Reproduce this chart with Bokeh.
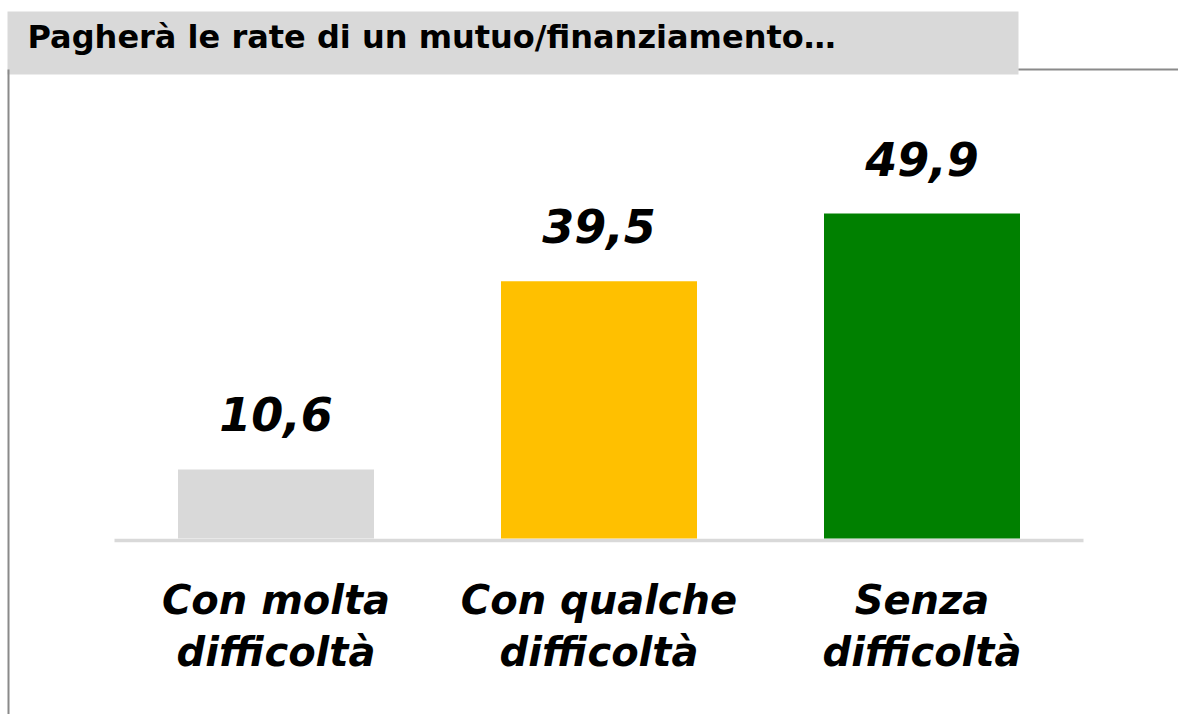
from bokeh.plotting import figure
from bokeh.models import Range1d, ColumnDataSource
from bokeh.core.properties import value
from bokeh.embed import file_html
from bokeh.resources import INLINE

# ---- data ----
title_text = "Pagherà le rate di un mutuo/finanziamento…"
categories = ["Con molta\ndifficoltà", "Con qualche\ndifficoltà", "Senza\ndifficoltà"]
values = [10.6, 39.5, 49.9]
value_labels = ["10,6", "39,5", "49,9"]
colors = ["#d9d9d9", "#ffc000", "#008000"]

# ---- layout (pixels) ----
W, H = 1178, 714
cat_px = 323.0          # width of one category slot
left_px = 114.0         # x of first slot's left edge
base_px = 538.0         # y (from top) of value 0
unit_px = 6.513         # px per value unit

x0 = -left_px / cat_px
x1 = (W - left_px) / cat_px
y1 = base_px / unit_px
y0 = -(H - base_px) / unit_px

def xd(px):
    return x0 + px / cat_px

def yd(py):
    return y1 - py / unit_px

p = figure(width=W, height=H, output_backend="svg", toolbar_location=None,
           x_range=Range1d(x0, x1), y_range=Range1d(y0, y1),
           min_border=0, x_axis_type=None, y_axis_type=None)
p.outline_line_color = None
p.grid.visible = False
p.background_fill_color = "white"
p.border_fill_color = "white"

# title box and frame lines
p.quad(left=[xd(7)], right=[xd(1018)], top=[yd(11)], bottom=[yd(74)],
       fill_color="#d9d9d9", line_color=None)
p.segment(x0=[xd(1018)], y0=[yd(69)], x1=[xd(W + 2)], y1=[yd(69)],
          line_color="#8a8a8a", line_width=2)
p.segment(x0=[xd(8)], y0=[yd(69)], x1=[xd(8)], y1=[yd(H + 2)],
          line_color="#8a8a8a", line_width=2)
p.text(x=[xd(27)], y=[yd(36)], text=[title_text],
       text_font=value("DejaVu Sans"), text_font_style="bold",
       text_font_size="32px", text_color="black",
       text_align="left", text_baseline="alphabetic")

# bars
xs = [i + 0.5 for i in range(len(categories))]
src = ColumnDataSource(dict(x=xs, top=values, color=colors, lab=value_labels,
                            l1=[c.split("\n")[0] for c in categories],
                            l2=[c.split("\n")[1] for c in categories]))

# baseline
p.segment(x0=[xd(114)], y0=[yd(540)], x1=[xd(1083)], y1=[yd(540)],
          line_color="#d9d9d9", line_width=3.3)

p.vbar(x="x", top="top", bottom=0, width=196 / cat_px, color="color",
       line_color=None, source=src)

p.text(x="x", y="top", text="lab", source=src, y_offset=-55,
       text_font=value("DejaVu Sans"), text_font_style="bold italic",
       text_font_size="46px", text_color="black",
       text_align="center", text_baseline="alphabetic")

p.text(x="x", y=0, text="l1", source=src, y_offset=61,
       text_font=value("DejaVu Sans"), text_font_style="bold italic",
       text_font_size="40px", text_color="black",
       text_align="center", text_baseline="alphabetic")
p.text(x="x", y=0, text="l2", source=src, y_offset=113,
       text_font=value("DejaVu Sans"), text_font_style="bold italic",
       text_font_size="40px", text_color="black",
       text_align="center", text_baseline="alphabetic")

open("out.html", "w").write(file_html(p, INLINE))
